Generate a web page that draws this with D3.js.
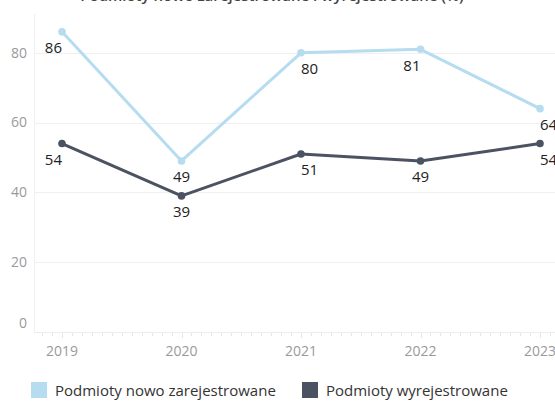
<!DOCTYPE html>
<meta charset="utf-8">
<script src="https://d3js.org/d3.v7.min.js"></script>
<style>
  body { margin: 0; background: #fff; }
  text { font-family: "Open Sans", sans-serif; }
</style>
<svg id="chart" width="555" height="401"></svg>
<script>
  // data
  var years = [2019, 2020, 2021, 2022, 2023];
  var nowoZarejestrowane = [86, 49, 80, 81, 64];
  var wyrejestrowane = [54, 39, 51, 49, 54];
  var yTicks = [0, 20, 40, 60, 80];
  var seriesNames = ["Podmioty nowo zarejestrowane", "Podmioty wyrejestrowane"];
  var title = "Podmioty nowo zarejestrowane i wyrejestrowane (%)";

  // where each value label sits relative to its point
  var anchorsLight = ["end", "middle", "start", "end", "start"];
  var anchorsDark = ["end", "middle", "start", "middle", "start"];

  var colors = ["#b6dcf0", "#4b5262"];

  var svg = d3.select("#chart");

  var x = d3.scaleLinear().domain([2019, 2023]).range([62, 540]);
  var y = d3.scaleLinear().domain([0, 91]).range([332, 14.4]);

  // title, cut off at the top of the picture
  svg.append("text")
    .attr("x", 272).attr("y", 0.5)
    .attr("text-anchor", "middle")
    .attr("font-size", 15).attr("font-weight", 600)
    .attr("fill", "#444")
    .text(title);

  // gridlines
  svg.append("g").selectAll("line")
    .data(yTicks.slice(1))
    .enter().append("line")
    .attr("x1", 34).attr("x2", 555)
    .attr("y1", function(d) { return Math.round(y(d)) + 0.5; })
    .attr("y2", function(d) { return Math.round(y(d)) + 0.5; })
    .attr("stroke", "#f0f0f0");

  // left axis line
  svg.append("line")
    .attr("x1", 34.5).attr("x2", 34.5)
    .attr("y1", 14).attr("y2", 332)
    .attr("stroke", "#f0f0f0");

  // bottom axis line + small ticks
  svg.append("line")
    .attr("x1", 34).attr("x2", 555)
    .attr("y1", 332.5).attr("y2", 332.5)
    .attr("stroke", "#ececec");

  var minor = d3.range(2019 - 2 / 12, 2023 + 1.5 / 12, 1 / 12);
  svg.append("g").selectAll("line")
    .data(minor)
    .enter().append("line")
    .attr("x1", function(d) { return Math.round(x(d)) + 0.5; })
    .attr("x2", function(d) { return Math.round(x(d)) + 0.5; })
    .attr("y1", 333)
    .attr("y2", function(d) { return Math.abs(d - Math.round(d)) < 1e-6 ? 338 : 336; })
    .attr("stroke", "#e6e6e6");

  // y labels
  svg.append("g").selectAll("text")
    .data(yTicks)
    .enter().append("text")
    .attr("x", 27)
    .attr("y", function(d) { return d === 0 ? y(d) - 9 : y(d); })
    .attr("dy", "0.35em")
    .attr("text-anchor", "end")
    .attr("font-size", 14)
    .attr("fill", "#9a9a9a")
    .text(function(d) { return d; });

  // x labels
  svg.append("g").selectAll("text")
    .data(years)
    .enter().append("text")
    .attr("x", function(d) { return x(d); })
    .attr("y", 351)
    .attr("dy", "0.35em")
    .attr("text-anchor", "middle")
    .attr("font-size", 14)
    .attr("fill", "#9a9a9a")
    .text(function(d) { return d; });

  var line = d3.line()
    .x(function(d) { return x(d.year); })
    .y(function(d) { return y(d.value); });

  function drawSeries(values, color, anchors) {
    var pts = years.map(function(yr, i) { return { year: yr, value: values[i], anchor: anchors[i] }; });
    svg.append("path")
      .datum(pts)
      .attr("d", line)
      .attr("fill", "none")
      .attr("stroke", color)
      .attr("stroke-width", 3)
      .attr("stroke-linejoin", "round");
    svg.append("g").selectAll("circle")
      .data(pts)
      .enter().append("circle")
      .attr("cx", function(d) { return x(d.year); })
      .attr("cy", function(d) { return y(d.value); })
      .attr("r", 3.8)
      .attr("fill", color);
    svg.append("g").selectAll("text")
      .data(pts)
      .enter().append("text")
      .attr("x", function(d) { return x(d.year); })
      .attr("y", function(d) { return y(d.value) + 16; })
      .attr("dy", "0.35em")
      .attr("text-anchor", function(d) { return d.anchor; })
      .attr("font-size", 15)
      .attr("fill", "#222")
      .text(function(d) { return d.value; });
  }

  drawSeries(nowoZarejestrowane, colors[0], anchorsLight);
  drawSeries(wyrejestrowane, colors[1], anchorsDark);

  // legend
  var legendX = [31, 302];
  var legend = svg.append("g").selectAll("g")
    .data(seriesNames)
    .enter().append("g")
    .attr("transform", function(d, i) { return "translate(" + legendX[i] + ",382)"; });
  legend.append("rect")
    .attr("width", 16).attr("height", 16)
    .attr("fill", function(d, i) { return colors[i]; });
  legend.append("text")
    .attr("x", 24).attr("y", 9)
    .attr("dy", "0.35em")
    .attr("font-size", 15)
    .attr("fill", "#333")
    .text(function(d) { return d; });
</script>
